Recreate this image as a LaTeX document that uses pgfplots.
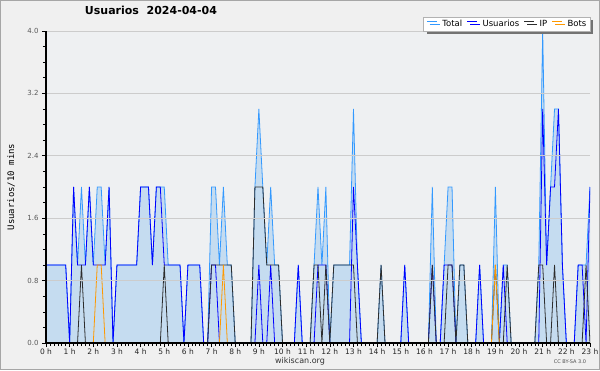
\documentclass[border=0pt]{standalone}
\usepackage{fontspec}
\setmainfont{DejaVu Sans}
\newfontfamily\monofont{DejaVu Sans Mono}
\usepackage{pgfplots}
\pgfplotsset{compat=1.18}
\usepackage{pgfplotstable}
\usetikzlibrary{shadows}
\definecolor{outerbg}{RGB}{240,240,240}
\definecolor{plotbg}{RGB}{238,240,242}
\definecolor{totline}{RGB}{51,153,255}
\definecolor{totfill}{RGB}{170,207,239}
\definecolor{usr}{RGB}{0,0,255}
\definecolor{ipc}{RGB}{45,45,45}
\definecolor{bots}{RGB}{255,153,0}
\definecolor{gridc}{RGB}{204,204,204}

\pgfplotstableread{
k T U IP B
0 1 1 0 0
1 1 1 0 0
2 1 1 0 0
3 1 1 0 0
4 1 1 0 0
5 1 1 0 0
6 0 0 0 0
7 2 2 0 0
8 1 1 0 0
9 2 1 1 0
10 1 1 0 0
11 2 2 0 0
12 1 1 0 0
13 2 1 0 1
14 2 1 0 1
15 1 1 0 0
16 2 2 0 0
17 0 0 0 0
18 1 1 0 0
19 1 1 0 0
20 1 1 0 0
21 1 1 0 0
22 1 1 0 0
23 1 1 0 0
24 2 2 0 0
25 2 2 0 0
26 2 2 0 0
27 1 1 0 0
28 2 2 0 0
29 2 2 0 0
30 2 1 1 0
31 1 1 0 0
32 1 1 0 0
33 1 1 0 0
34 1 1 0 0
35 0 0 0 0
36 1 1 0 0
37 1 1 0 0
38 1 1 0 0
39 1 1 0 0
40 0 0 0 0
41 0 0 0 0
42 2 1 1 0
43 2 1 1 0
44 1 0 1 0
45 2 0 1 1
46 1 0 1 0
47 1 0 1 0
48 0 0 0 0
49 0 0 0 0
50 0 0 0 0
51 0 0 0 0
52 0 0 0 0
53 2 0 2 0
54 3 1 2 0
55 2 0 2 0
56 1 0 1 0
57 2 1 1 0
58 1 0 1 0
59 1 0 1 0
60 0 0 0 0
61 0 0 0 0
62 0 0 0 0
63 0 0 0 0
64 1 1 0 0
65 0 0 0 0
66 0 0 0 0
67 0 0 0 0
68 1 0 1 0
69 2 1 1 0
70 1 1 0 0
71 2 1 1 0
72 0 0 0 0
73 1 0 1 0
74 1 0 1 0
75 1 0 1 0
76 1 0 1 0
77 1 0 1 0
78 3 2 1 0
79 1 1 0 0
80 0 0 0 0
81 0 0 0 0
82 0 0 0 0
83 0 0 0 0
84 0 0 0 0
85 1 0 1 0
86 0 0 0 0
87 0 0 0 0
88 0 0 0 0
89 0 0 0 0
90 0 0 0 0
91 1 1 0 0
92 0 0 0 0
93 0 0 0 0
94 0 0 0 0
95 0 0 0 0
96 0 0 0 0
97 0 0 0 0
98 2 1 1 0
99 0 0 0 0
100 0 0 0 0
101 1 1 0 0
102 2 1 1 0
103 2 1 1 0
104 0 0 0 0
105 1 0 1 0
106 1 0 1 0
107 0 0 0 0
108 0 0 0 0
109 0 0 0 0
110 1 1 0 0
111 0 0 0 0
112 0 0 0 0
113 0 0 0 0
114 2 0 1 1
115 0 0 0 0
116 1 1 0 0
117 1 0 1 0
118 0 0 0 0
119 0 0 0 0
120 0 0 0 0
121 0 0 0 0
122 0 0 0 0
123 0 0 0 0
124 0 0 0 0
125 1 0 1 0
126 4 3 1 0
127 1 1 0 0
128 2 2 0 0
129 3 2 1 0
130 3 3 0 0
131 1 1 0 0
132 0 0 0 0
133 0 0 0 0
134 0 0 0 0
135 1 1 0 0
136 1 1 0 0
137 1 0 1 0
138 2 2 0 0
}\data

\begin{document}
\begin{tikzpicture}
\fill[outerbg] (-46pt,-27pt) rectangle (554pt,343pt);
\draw[black!35, line width=1.5pt] (-45.25pt,-26.25pt) rectangle (553.25pt,342.25pt);
\begin{axis}[
  at={(0pt,0pt)}, anchor=south west,
  scale only axis, width=544pt, height=312pt,
  xmin=0, xmax=138, ymin=0, ymax=4,
  axis on top,
  axis x line*=bottom, axis y line*=left,
  axis line style={-, black, line width=1.3pt},
  axis background/.style={fill=plotbg},
  xtick={0,6,...,138},
  xticklabels={0 h,1 h,2 h,3 h,4 h,5 h,6 h,7 h,8 h,9 h,10 h,11 h,12 h,13 h,14 h,15 h,16 h,17 h,18 h,19 h,20 h,21 h,22 h,23 h},
  minor x tick num=5,
  ytick={0,0.8,1.6,2.4,3.2,4.0},
  yticklabels={0.0,0.8,1.6,2.4,3.2,4.0},
  minor y tick num=3,
  ymajorgrids,
  major grid style={gridc, line width=0.7pt},
  tick align=outside, tick pos=left,
  major tick length=4pt, minor tick length=3pt,
  every tick/.style={black, line width=0.6pt},
  x tick label style={font=\fontsize{7.5}{8}\selectfont, text=black!85, yshift=1.5pt},
  y tick label style={font=\fontsize{7}{8}\selectfont, text=black!65},
  title={Usuarios\ \ 2024-04-04},
  title style={at={(axis description cs:0.193,1)}, anchor=center, yshift=15pt, font=\fontsize{11}{12}\selectfont\bfseries},
  ylabel={Usuarios/10 mins},
  ylabel style={at={(axis description cs:-0.0643,0.5)}, anchor=center, font=\monofont\fontsize{9}{10}\selectfont},
  legend columns=4,
  legend style={at={(1,1)}, anchor=north east, yshift=14pt, draw=black!30, fill=white,
    font=\fontsize{8.5}{9}\selectfont, inner xsep=3pt, inner ysep=1.5pt,
    nodes={inner xsep=0.5pt, inner ysep=1.5pt},
    /tikz/every odd column/.append style={column sep=4.5pt},
    /tikz/every even column/.append style={column sep=4pt},
    drop shadow={shadow xshift=3pt, shadow yshift=-3pt, fill=black!55, opacity=1}},
  legend image code/.code={\draw[#1, line width=0.8pt] (0pt,3pt) -- (10pt,3pt);},
]
\addplot[draw=none, fill=totfill, fill opacity=0.6, forget plot] table[x=k,y=T]{\data} \closedcycle;
\addplot[totline, line width=0.8pt] table[x=k,y=T]{\data};
\addplot[usr, line width=0.8pt] table[x=k,y=U]{\data};
\addplot[ipc, line width=0.8pt] table[x=k,y=IP]{\data};
\addplot[bots, line width=0.8pt] table[x=k,y=B]{\data};
\legend{Total,Usuarios,IP,Bots}
\end{axis}
\node[font=\fontsize{8}{9}\selectfont, text=black!80] at (254pt,-18pt) {wikiscan.org};
\node[font=\fontsize{5}{6}\selectfont, text=black!70] at (524pt,-19pt) {CC BY-SA 3.0};
\pgfresetboundingbox
\path (-46pt,-27pt) rectangle (554pt,343pt);
\end{tikzpicture}
\end{document}
